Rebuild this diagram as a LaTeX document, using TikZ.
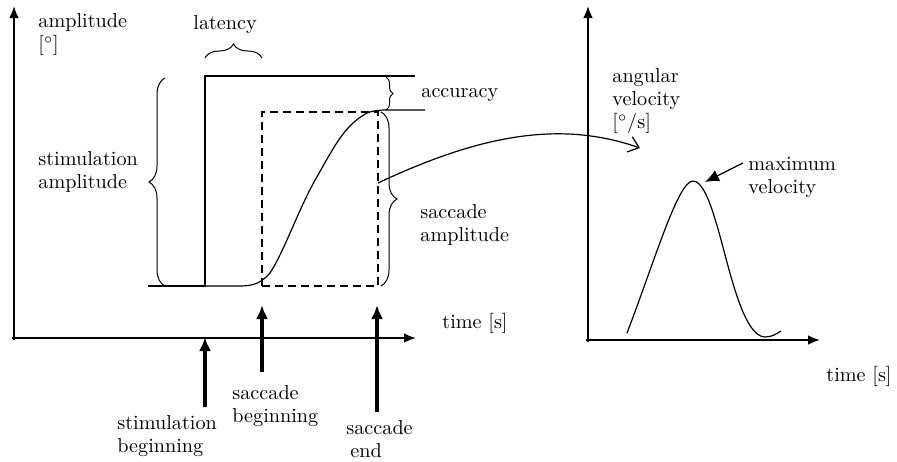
\documentclass[tikz,border=0pt]{standalone}
\usepackage{fontspec}
\usetikzlibrary{arrows.meta,decorations.pathreplacing}
\begin{document}
\begin{tikzpicture}[x=0.5pt,y=-0.5pt,
  txt/.style={font=\rmfamily\fontsize{10.1}{11.5}\selectfont, inner sep=0pt, align=left, anchor=west, text=black},
  axis/.style={line width=1.4pt, -{Latex[length=6pt,width=5pt]}},
  uparrow/.style={line width=2pt, -{Latex[length=7pt,width=6pt]}},
  curve/.style={line width=0.6pt, line join=round},
  brc/.style={decorate, decoration={brace, amplitude=#1}, line width=0.5pt}
]
\useasboundingbox (0,0) rectangle (897,461);

% axes
\coordinate (o1) at (14,340);
\coordinate (y1) at (14,6);
\coordinate (a1) at (12,338);
\coordinate (x1) at (416,338);
\draw[axis] (o1) -- (y1);
\draw[axis] (a1) -- (x1);
\coordinate (o2) at (588,342);
\coordinate (y2) at (588,6);
\coordinate (a2) at (586,340);
\coordinate (x2) at (820,340);
\draw[axis] (o2) -- (y2);
\draw[axis] (a2) -- (x2);

% stimulation step
\draw[line width=1.4pt] (148,286) -- (205,286) -- (205,76) -- (415,76);

% dashed box
\draw[line width=0.6pt, dash pattern=on 4pt off 2.5pt] (262,286) rectangle (378,112);

% saccade curve
\draw[curve] (205,286) -- (240,286) .. controls (255,286) and (262,282) .. (270,273)
  .. controls (285,250) and (300,205) .. (318,175)
  .. controls (335,145) and (345,125) .. (367,113)
  .. controls (372,111) and (378,110) .. (385,110) -- (425,110);

% braces
\draw[brc=8pt] (165,286) -- (165,78);
\draw[brc=7pt] (205,58) -- (262,58);
\draw[brc=3.5pt] (386,77) -- (386,110);
\draw[brc=8pt] (381,112) -- (381,286);

% connecting arrow
\coordinate (cs) at (378,183);
\coordinate (ce) at (640,148);
\draw[curve, -{Straight Barb[length=5pt,width=8pt]}] (cs) .. controls (480,135) and (560,120) .. (ce);

% velocity curve
\draw[curve] (627,333) .. controls (655,260) and (678,181) .. (693,181)
  .. controls (710,181) and (722,250) .. (735,290)
  .. controls (745,322) and (755,337) .. (765,337)
  .. controls (772,337) and (776,334) .. (781,331);

% labels
\node[txt] (amp) at (38,35) {amplitude\\{[$^\circ$]}};
\node[txt] (lat) at (193,25) {latency};
\node[txt] (stim) at (38,172) {stimulation\\amplitude};
\node[txt] (acc) at (421,95) {accuracy};
\node[txt] (sacamp) at (420,225) {saccade\\amplitude};
\node[txt] (t1) at (442,323) {time [s]};
\node[txt] (ang) at (612,101) {angular\\velocity\\{[$^\circ$/s]}};
\node[txt] (maxv) at (748,177) {maximum\\velocity};
\node[txt] (t2) at (826,376) {time [s]};
\node[txt] (sb) at (117,436) {stimulation\\beginning};
\node[txt] (sacb) at (232,406) {saccade\\beginning};
\node[txt] (sace) at (346,439) {saccade\\\hspace{2pt}end};

% max velocity arrow
\coordinate (mvs) at (743,163);
\coordinate (mve) at (705,182);
\draw[line width=0.6pt, -{Latex[length=7pt,width=6pt]}] (mvs) -- (mve);

% event arrows
\coordinate (sb1) at (205,407);
\coordinate (sb2) at (205,337);
\coordinate (sc1) at (262,372);
\coordinate (sc2) at (262,305);
\coordinate (se1) at (377,412);
\coordinate (se2) at (377,305);
\draw[uparrow] (sb1) -- (sb2);
\draw[uparrow] (sc1) -- (sc2);
\draw[uparrow] (se1) -- (se2);
\end{tikzpicture}
\end{document}
